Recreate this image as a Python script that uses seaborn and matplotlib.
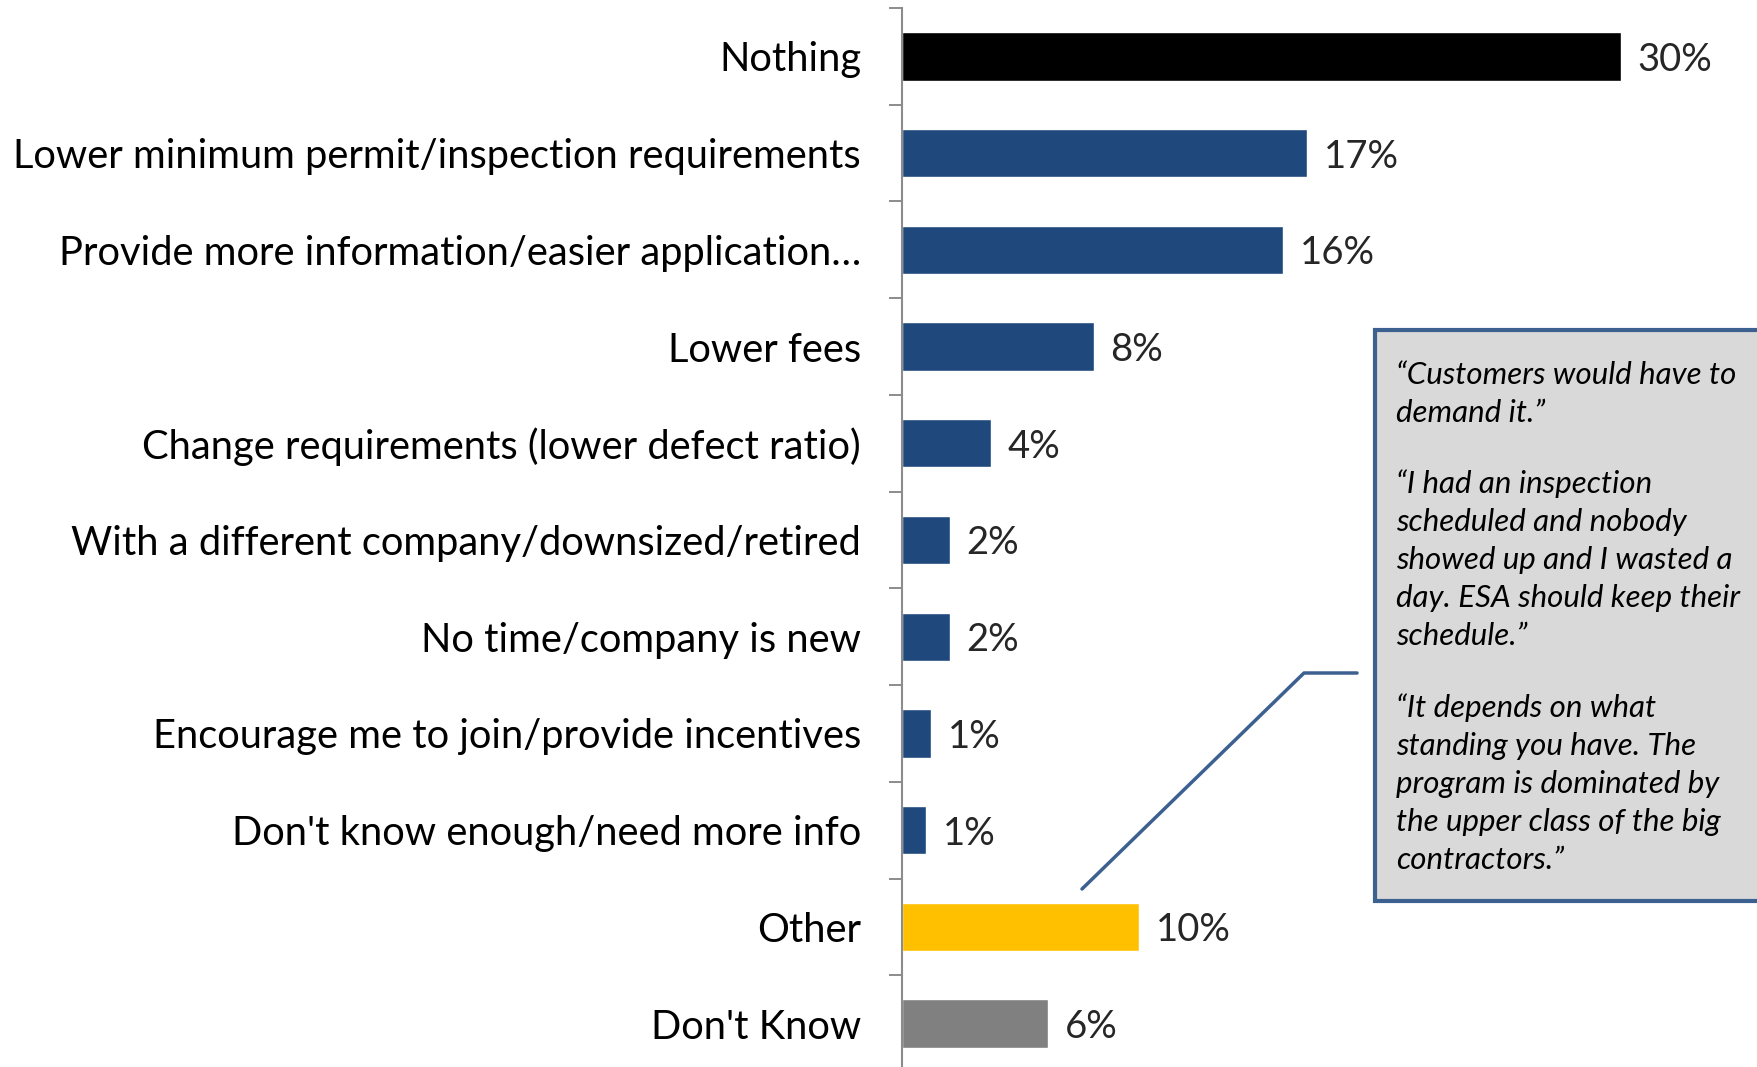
import matplotlib
matplotlib.use("Agg")
import matplotlib.pyplot as plt
from matplotlib.patches import Rectangle
from matplotlib.lines import Line2D
import seaborn as sns
import pandas as pd

# Data (bar lengths, labels shown rounded)
categories = [
    "Nothing",
    "Lower minimum permit/inspection requirements",
    "Provide more information/easier application\u2026",
    "Lower fees",
    "Change requirements (lower defect ratio)",
    "With a different company/downsized/retired",
    "No time/company is new",
    "Encourage me to join/provide incentives",
    "Don't know enough/need more info",
    "Other",
    "Don't Know",
]
values = [30.0, 16.9, 15.9, 8.0, 3.7, 2.0, 2.0, 1.2, 1.0, 9.9, 6.1]
bar_colors = ["#000000"] + ["#1f497d"] * 8 + ["#ffc000", "#808080"]

quote_1 = "\u201cCustomers would have to\ndemand it.\u201d"
quote_2 = ("\u201cI had an inspection\nscheduled and nobody\nshowed up and I wasted a\n"
           "day. ESA should keep their\nschedule.\u201d")
quote_3 = ("\u201cIt depends on what\nstanding you have. The\nprogram is dominated by\n"
           "the upper class of the big\ncontractors.\u201d")

df = pd.DataFrame({"answer": categories, "pct": values})

sns.set_style("white")
plt.rcParams["font.family"] = ["Lato", "DejaVu Sans"]

W, H = 1758, 1067
fig = plt.figure(figsize=(W / 100, H / 100), dpi=100)


def fx(x):
    return x / W


def fy(y):
    return 1 - y / H


# axes box in pixels: left spine at x=902, top tick at y=8
ax = fig.add_axes([fx(902), fy(1072), fx(W) - fx(902), fy(8) - fy(1072)])

sns.barplot(data=df, x="pct", y="answer", hue="answer",
            palette=dict(zip(categories, bar_colors)), legend=False,
            width=0.5, saturation=1, ax=ax, orient="h")

ax.set_xlim(0, (W - 902) / 23.97)
ax.set_ylim(len(categories) - 0.5, -0.5)
ax.set_xlabel("")
ax.set_ylabel("")
ax.set_xticks([])

for s in ["top", "right", "bottom"]:
    ax.spines[s].set_visible(False)
ax.spines["left"].set_color("#8c8c8c")
ax.spines["left"].set_linewidth(1.5)

ax.tick_params(axis="y", which="major", left=False, length=0, pad=29.5,
               labelsize=28.7, labelcolor="black")
ax.set_yticks([i - 0.5 for i in range(len(categories) + 1)], minor=True)
ax.tick_params(axis="y", which="minor", left=True, length=9.4, width=1.4,
               color="#8c8c8c")

for c in ax.containers:
    for t in ax.bar_label(c, fmt="{:.0f}%", padding=12, fontsize=27.5):
        t.set_va("center_baseline")

# callout box with quotes
box = Rectangle((fx(1375), fy(901)), fx(1800) - fx(1375), fy(330) - fy(901),
                transform=fig.transFigure, facecolor="#d9d9d9",
                edgecolor="#3c6090", linewidth=3, clip_on=False)
fig.add_artist(box)

qkw = dict(transform=fig.transFigure, fontsize=22.5, fontstyle="italic",
           va="top", ha="left", linespacing=1.44, color="black")
fig.text(fx(1396), fy(361), quote_1, **qkw)
fig.text(fx(1396), fy(469), quote_2, **qkw)
fig.text(fx(1396), fy(693), quote_3, **qkw)

# connector line from box to the "Other" bar
fig.add_artist(Line2D([fx(1357), fx(1304), fx(1082)], [fy(673), fy(673), fy(889)],
                      transform=fig.transFigure, color="#3c6090", linewidth=2.5))

fig.savefig("out.png", dpi=100)
